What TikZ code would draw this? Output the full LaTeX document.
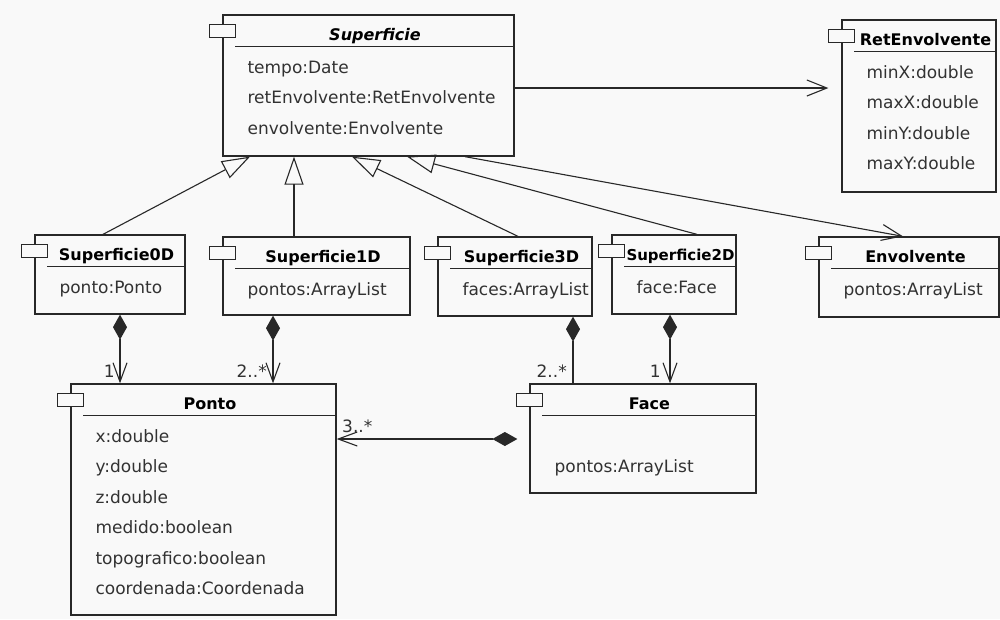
\documentclass[tikz,border=0pt]{standalone}
\usepackage{fontspec}
\setmainfont{DejaVu Sans}
\usetikzlibrary{arrows.meta}
\definecolor{bg}{RGB}{249,249,249}
\definecolor{ink}{RGB}{40,40,40}
\definecolor{txt}{RGB}{50,50,50}

% class box: name, centre x, centre y, width, height, title
\newcommand\umlbox[6]{%
  \node[cls, minimum width=#4pt, minimum height=#5pt] (#1) at (#2,#3) {};
  \node[tabbox] (#1-tab) at ([yshift=-16.5pt]#1.north west) {};
  \draw[hdr] ([xshift=13pt,yshift=-32pt]#1.north west) -- ([yshift=-32pt]#1.north east);
  \node[ttl] (#1-title) at ([xshift=6.5pt,yshift=-26.5pt]#1.north) {#6};
}
% attribute line: box, line index, text
\newcommand\umlattr[3]{%
  \node[attr] (#1-a#2) at ([xshift=25pt,yshift={-59pt-30.5pt*#2}]#1.north west) {#3};
}

\begin{document}
\begin{tikzpicture}[x=1pt,y=-1pt,
  font=\fontsize{17}{20}\selectfont,
  cls/.style={draw=ink, line width=1.3pt, fill=bg, inner sep=0pt, rectangle},
  tabbox/.style={draw=ink, line width=1.3pt, fill=bg, inner sep=0pt,
                 minimum width=26pt, minimum height=13pt},
  hdr/.style={draw=ink, line width=1.3pt},
  ttl/.style={anchor=base, font=\fontsize{16}{19}\selectfont\bfseries,
              text=black, inner sep=0pt},
  attr/.style={anchor=base west, text=txt, inner sep=0pt},
  mult/.style={text=txt, inner sep=0pt},
  link/.style={draw=ink, line width=1.1pt},
  gen/.style={link, -{Triangle[open, length=28pt, width=19pt]}},
  nav/.style={link, -{Straight Barb[length=20pt, width=16pt]}},
  comp/.style={link, {Diamond[length=25pt, width=14pt]}-{Straight Barb[length=19pt, width=14pt]}},
  compend/.style={link, {Diamond[length=25pt, width=14pt]}-},
]
\useasboundingbox (0,0) rectangle (1000,619);
\fill[bg] (0,0) rectangle (1000,619);

% classes
\umlbox{sup}{368.5}{85.5}{291}{141}{\itshape Superficie}
\umlattr{sup}{0}{tempo:Date}
\umlattr{sup}{1}{retEnvolvente:RetEnvolvente}
\umlattr{sup}{2}{envolvente:Envolvente}

\umlbox{ret}{919}{106}{154}{172}{RetEnvolvente}
\umlattr{ret}{0}{minX:double}
\umlattr{ret}{1}{maxX:double}
\umlattr{ret}{2}{minY:double}
\umlattr{ret}{3}{maxY:double}

\umlbox{s0}{110}{274.5}{150}{79}{Superficie0D}
\umlattr{s0}{0}{ponto:Ponto}

\umlbox{s1}{316.5}{276}{187}{78}{Superficie1D}
\umlattr{s1}{0}{pontos:ArrayList}

\umlbox{s3}{515}{276.5}{154}{79}{Superficie3D}
\umlattr{s3}{0}{faces:ArrayList}

\umlbox{s2}{674}{274.5}{124}{79}{\fontsize{15}{18}\selectfont Superficie2D}
\umlattr{s2}{0}{face:Face}

\umlbox{env}{909}{277}{180}{80}{Envolvente}
\umlattr{env}{0}{pontos:ArrayList}

\umlbox{ponto}{203.5}{499.5}{265}{231}{Ponto}
\umlattr{ponto}{0}{x:double}
\umlattr{ponto}{1}{y:double}
\umlattr{ponto}{2}{z:double}
\umlattr{ponto}{3}{medido:boolean}
\umlattr{ponto}{4}{topografico:boolean}
\umlattr{ponto}{5}{coordenada:Coordenada}

\umlbox{face}{643}{438.5}{226}{109}{Face}
\umlattr{face}{1}{pontos:ArrayList}

% generalisations
\draw[gen] ([xshift=-7pt]s0.north) -- ([xshift=-118.5pt]sup.south);
\draw[gen] ([xshift=-22.5pt]s1.north) -- ([xshift=-74.5pt]sup.south);
\draw[gen] ([xshift=3pt]s3.north) -- ([xshift=-16.5pt]sup.south);
\draw[gen] ([xshift=23pt]s2.north) -- ([xshift=38.5pt]sup.south);

% navigable associations
\coordinate (retlink) at ([yshift=-2.5pt]sup.east);
\draw[nav, shorten >=13pt] (retlink) -- (retlink -| ret.west);
\draw[nav] ([xshift=96.5pt]sup.south) -- ([xshift=-6pt]env.north);

% compositions
\draw[comp] ([xshift=10pt]s0.south) -- ([xshift=-83.5pt]ponto.north);
\draw[comp] ([xshift=-43.5pt]s1.south) -- ([xshift=69.5pt]ponto.north);
\draw[compend] ([xshift=58pt]s3.south) -- ([xshift=-70pt]face.north);
\draw[comp] ([xshift=-4pt]s2.south) -- ([xshift=27pt]face.north);
\coordinate (facelink) at ([yshift=-0.5pt]face.west);
\draw[comp, shorten <=12pt] (facelink) -- (facelink -| ponto.east);

% multiplicities
\node[mult, anchor=base east] (m-s0) at (115,377) {1};
\node[mult, anchor=base east] (m-s1) at (267,377) {2..*};
\node[mult, anchor=base east] (m-s3) at (567,377) {2..*};
\node[mult, anchor=base east] (m-s2) at (661,377) {1};
\node[mult, anchor=base west] (m-face) at (342,432) {3..*};
\end{tikzpicture}
\end{document}
